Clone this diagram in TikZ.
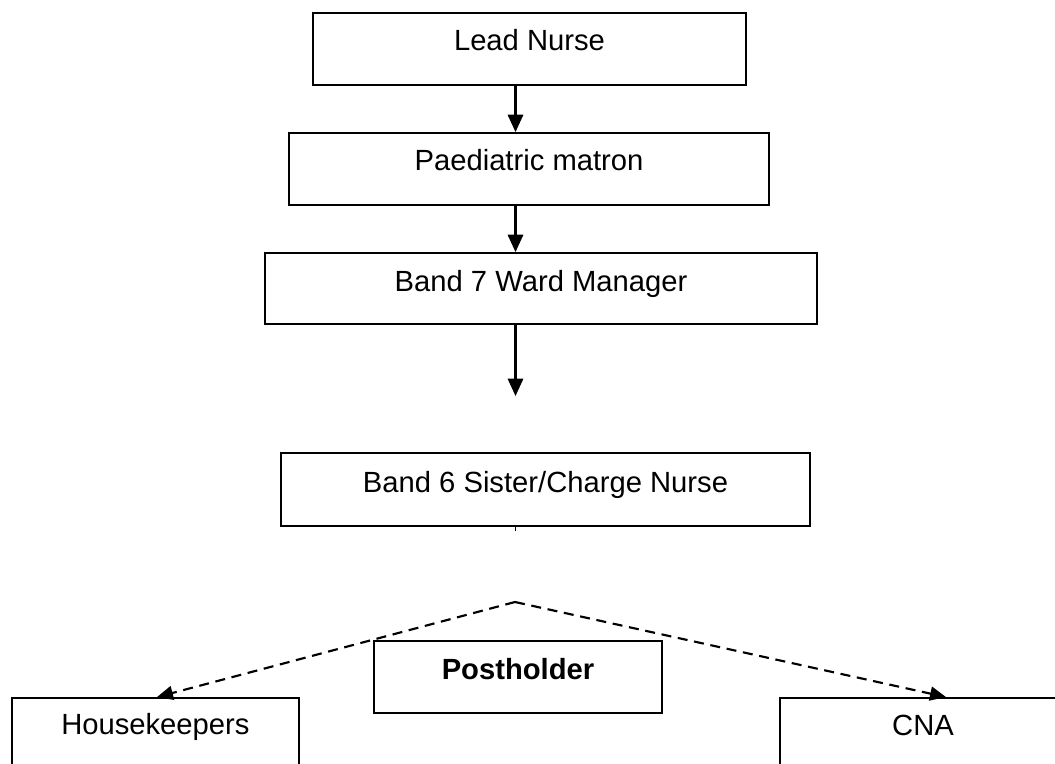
\documentclass[tikz,border=0pt]{standalone}
\usepackage{fontspec}
\setmainfont{Liberation Sans}
\usetikzlibrary{arrows.meta}
\begin{document}
\begin{tikzpicture}[x=0.75pt,y=-0.75pt,
  box/.style={draw=black,line width=1.4pt,inner sep=0pt,fill=white,
    font=\fontsize{21.9}{26}\selectfont,anchor=base},
  conn/.style={line width=1.6pt,-{Triangle[length=13pt,width=11.5pt]}},
  dconn/.style={line width=1.6pt,dash pattern=on 7.5pt off 5pt,-{Triangle[length=12pt,width=10.5pt]}}]
\useasboundingbox (0,0) rectangle (1055,763);
\clip (0,0) rectangle (1055,763);
\fill[white] (0,0) rectangle (1055,763);
\coordinate (axis) at (515.5,0);
\node[box,minimum width=324.75pt,text height=28.5pt,text depth=25.5pt] (lead) at (529.5,51) {Lead Nurse};
\node[box,minimum width=360pt,text height=28.5pt,text depth=25.5pt] (matron) at (529,171) {Paediatric matron};
\node[box,minimum width=414pt,text height=28.5pt,text depth=24.75pt] (band7) at (541,291) {Band 7 Ward Manager};
\node[box,minimum width=396.75pt,text height=29.25pt,text depth=25.5pt] (band6) at (545.5,492) {Band 6 Sister/Charge Nurse};
\node[box,minimum width=215.5pt,text height=27pt,text depth=27pt] (house) at (155.4,734) {Housekeepers};
\node[box,minimum width=214.5pt,text height=27.75pt,text depth=26.25pt] (cna) at (923,735) {CNA};
\coordinate (b7end) at (515.5,396);
\coordinate (apex) at (515,602);
\coordinate (b6tick) at (515.5,531);
\draw[conn] (lead.south -| axis) -- (matron.north -| axis);
\draw[conn] (matron.south -| axis) -- (band7.north -| axis);
\draw[conn] (band7.south -| axis) -- (b7end);
\draw[line width=1pt] (band6.south -| axis) -- (b6tick);
\draw[dconn] (apex) -- (house.north -| 157,0);
\draw[dconn] (apex) -- (cna.north -| 946,0);
\node[box,minimum width=216pt,text height=28.5pt,text depth=25.5pt,fill=none,font=\fontsize{21.9}{26}\selectfont\bfseries] (post) at (518,679) {Postholder};
\end{tikzpicture}
\end{document}
